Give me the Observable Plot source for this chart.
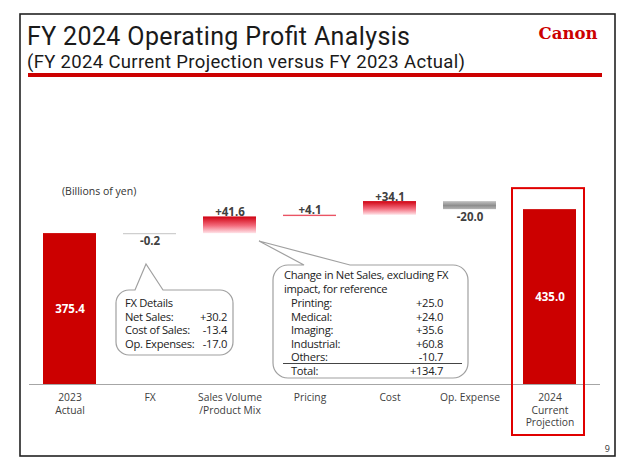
<!DOCTYPE html>
<html><head><meta charset="utf-8">
<script src="https://cdn.jsdelivr.net/npm/d3@7"></script>
<script src="https://cdn.jsdelivr.net/npm/@observablehq/plot@0.6"></script>
<style>
body{margin:0;background:#fff;}
#wrap{position:relative;width:640px;height:468px;overflow:hidden;font-family:"Open Sans",sans-serif;}
#wrap svg{position:absolute;left:0;top:0;}
</style></head><body><div id="wrap"></div>
<script>
// ---- data ----
const categories = ["2023\nActual", "FX", "Sales Volume\n/Product Mix", "Pricing", "Cost", "Op. Expense", "2024\nCurrent\nProjection"];
const values = [375.4, -0.2, 41.6, 4.1, 34.1, -20.0, 435.0];
const kinds = ["total", "delta", "delta", "delta", "delta", "delta", "total"];
const valueLabels = ["375.4", "-0.2", "+41.6", "+4.1", "+34.1", "-20.0", "435.0"];
const fxDetailTitle = "FX Details";
const fxDetailLabels = ["Net Sales:", "Cost of Sales:", "Op. Expenses:"];
const fxDetailValues = ["+30.2", "-13.4", "-17.0"];
const segmentHeader = ["Change in Net Sales, excluding FX", "impact, for reference"];
const segmentLabels = ["Printing:", "Medical:", "Imaging:", "Industrial:", "Others:"];
const segmentValues = ["+25.0", "+24.0", "+35.6", "+60.8", "-10.7"];
const segmentTotalLabel = "Total:";
const segmentTotalValue = "+134.7";

// ---- waterfall table ----
let run = 0;
const rows = categories.map((c, i) => {
  const v = values[i];
  let y1, y2;
  if (kinds[i] === "total") { y1 = 0; y2 = v; run = v; }
  else { y1 = run; y2 = run + v; run = y2; }
  return {cat: c, value: v, kind: kinds[i], y1, y2, label: valueLabels[i],
          top: Math.max(y1, y2), bottom: Math.min(y1, y2)};
});
const totals = rows.filter(d => d.kind === "total");
const posDeltas = rows.filter(d => d.kind === "delta" && d.value > 0);
const negDeltas = rows.filter(d => d.kind === "delta" && d.value < 0);
const highlight = rows.filter(d => d === rows[rows.length - 1]);

const FONT = '"Open Sans", sans-serif';
const wrap = document.getElementById("wrap");

// ---- background / annotations overlay ----
const ov = d3.select(wrap).append("svg").attr("width", 640).attr("height", 468)
  .style("font-family", FONT);

ov.append("rect").attr("x", 20).attr("y", 14).attr("width", 595).attr("height", 442)
  .attr("fill", "none").attr("stroke", "#222").attr("stroke-width", 1.6);
ov.append("text").attr("x", 27).attr("y", 44.5).attr("font-family", "Roboto, sans-serif").attr("font-size", 25)
  .attr("textLength", 383).attr("lengthAdjust", "spacing").attr("fill", "#1a1a1a")
  .text("FY 2024 Operating Profit Analysis");
ov.append("text").attr("x", 27).attr("y", 67.5).attr("font-family", "Roboto, sans-serif").attr("font-size", 18.5)
  .attr("textLength", 438).attr("lengthAdjust", "spacing").attr("fill", "#1a1a1a")
  .text("(FY 2024 Current Projection versus FY 2023 Actual)");
ov.append("rect").attr("x", 28).attr("y", 73).attr("width", 574).attr("height", 4).attr("fill", "#cc0000");
ov.append("text").attr("x", 568).attr("y", 39).attr("text-anchor", "middle")
  .attr("font-family", '"DejaVu Serif", serif').attr("font-weight", "bold").attr("font-size", 16.5)
  .attr("textLength", 59).attr("lengthAdjust", "spacingAndGlyphs").attr("fill", "#cc0000").text("Canon");
ov.append("text").attr("x", 62).attr("y", 195).attr("font-size", 10.5).attr("fill", "#333").text("(Billions of yen)");
ov.append("text").attr("x", 610).attr("y", 452).attr("text-anchor", "end").attr("font-size", 9).attr("fill", "#333").text("9");

function callout(x0, y0, x1, y1, r, bl, br, tx, ty) {
  return `M${x0 + r},${y0} L${bl},${y0} L${tx},${ty} L${br},${y0} L${x1 - r},${y0} A${r},${r} 0 0 1 ${x1},${y0 + r} ` +
    `L${x1},${y1 - r} A${r},${r} 0 0 1 ${x1 - r},${y1} L${x0 + r},${y1} A${r},${r} 0 0 1 ${x0},${y1 - r} ` +
    `L${x0},${y0 + r} A${r},${r} 0 0 1 ${x0 + r},${y0} Z`;
}
ov.append("path").attr("d", callout(116, 290, 233, 355, 13, 135, 163, 146, 264))
  .attr("fill", "#fff").attr("stroke", "#a0a0a0").attr("stroke-width", 1.2);
ov.append("path").attr("d", callout(273, 265, 468, 378, 15, 304, 350, 259, 241))
  .attr("fill", "#fff").attr("stroke", "#a0a0a0").attr("stroke-width", 1.2);

const cf = 11.2;
const ls = "-0.3px";
const t = (x, y, s, anchor) => ov.append("text").attr("x", x).attr("y", y).attr("font-size", cf)
  .attr("letter-spacing", ls).attr("fill", "#222").attr("text-anchor", anchor || "start").text(s);
t(125, 307, fxDetailTitle);
fxDetailLabels.forEach((l, i) => {
  const y = 320.5 + i * 13.5;
  t(125, y, l);
  t(227, y, fxDetailValues[i], "end");
});
segmentHeader.forEach((l, i) => t(284, 279 + i * 13.5, l));
segmentLabels.forEach((l, i) => {
  const y = 307 + i * 13.6;
  t(291, y, l);
  t(443, y, segmentValues[i], "end");
});
ov.append("line").attr("x1", 283).attr("x2", 462).attr("y1", 363.5).attr("y2", 363.5).attr("stroke", "#444").attr("stroke-width", 1);
t(291, 375, segmentTotalLabel);
t(443, 375, segmentTotalValue, "end");

// ---- gradient defs as a render mark ----
const defs = () => {
  const d = d3.create("svg:defs");
  const r = d.append("linearGradient").attr("id", "gRed").attr("x1", 0).attr("y1", 0).attr("x2", 0).attr("y2", 1);
  r.append("stop").attr("offset", "0%").attr("stop-color", "#cf0010");
  r.append("stop").attr("offset", "55%").attr("stop-color", "#f36b7c");
  r.append("stop").attr("offset", "100%").attr("stop-color", "#ffe3e8");
  const g = d.append("linearGradient").attr("id", "gGray").attr("x1", 0).attr("y1", 0).attr("x2", 0).attr("y2", 1);
  g.append("stop").attr("offset", "0%").attr("stop-color", "#c4c4c4");
  g.append("stop").attr("offset", "55%").attr("stop-color", "#8e8e8e");
  g.append("stop").attr("offset", "100%").attr("stop-color", "#b4b4b4");
  return d.node();
};

const chart = Plot.plot({
  width: 640, height: 468,
  marginLeft: 29, marginRight: 40, marginTop: 183, marginBottom: 84,
  x: {domain: categories, range: [29.5, 589.5], paddingInner: 0.34, paddingOuter: 0.17, axis: null},
  y: {domain: [0, 500], axis: null},
  style: {fontFamily: FONT, background: "transparent", overflow: "visible"},
  marks: [
    defs,
    Plot.ruleY([0], {stroke: "#a6a6a6", strokeWidth: 1.2}),
    Plot.rectY(highlight, {x: "cat", y1: 0, y2: "value", fill: "none", stroke: "#e00000", strokeWidth: 2,
      insetTop: -21, insetBottom: -51, insetLeft: -11, insetRight: -8}),
    Plot.rectY(totals, {x: "cat", y1: "y1", y2: "y2", fill: "#cc0000"}),
    Plot.rectY(posDeltas, {x: "cat", y1: "y1", y2: "y2", fill: "url(#gRed)"}),
    Plot.rectY(negDeltas.filter(d => Math.abs(d.value) >= 1), {x: "cat", y1: "y1", y2: "y2", fill: "url(#gGray)"}),
    Plot.tickY(negDeltas.filter(d => Math.abs(d.value) < 1), {x: "cat", y: "y2", stroke: "#cfcfcf", strokeWidth: 1.3}),
    Plot.text(totals, {x: "cat", y: d => d.value / 2, text: "label", fill: "#fff", fontWeight: "bold", fontSize: 11.5}),
    Plot.text(posDeltas, {x: "cat", y: "top", text: "label", lineAnchor: "bottom", dy: -1, fill: "#404040", fontWeight: "bold", fontSize: 11.5}),
    Plot.text(negDeltas, {x: "cat", y: "bottom", text: "label", lineAnchor: "top", dy: 3, fill: "#404040", fontWeight: "bold", fontSize: 11.5}),
    Plot.text(rows, {x: "cat", y: () => 0, text: "cat", lineAnchor: "top", dy: 7, lineHeight: 1.25, fill: "#404040", fontSize: 10.3})
  ]
});
wrap.appendChild(chart);
</script>
</body></html>
